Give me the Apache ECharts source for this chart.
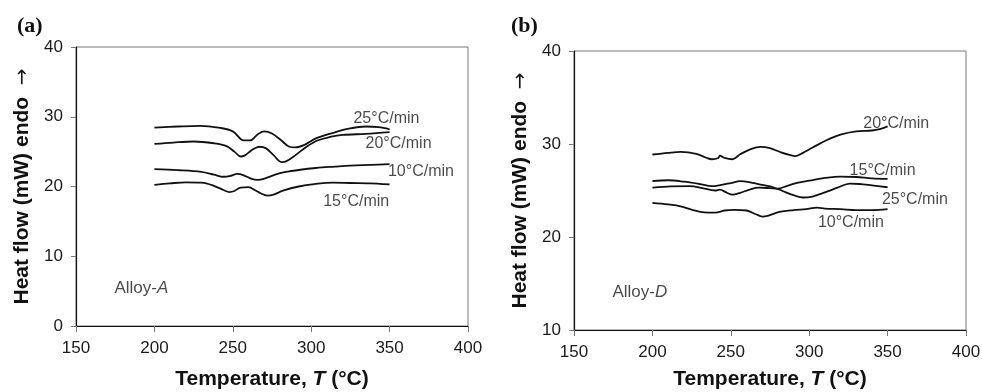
<!DOCTYPE html>
<html><head><meta charset="utf-8">
<script src="https://cdn.jsdelivr.net/npm/echarts@6/dist/echarts.min.js"></script>
<style>html,body{margin:0;padding:0;background:#fff}#c{width:982px;height:392px}</style>
</head><body><div id="c"></div>
<script>
// ---------- Panel (a) Alloy-A ----------
const A25_T = [200,215,229,242,250,257,261,266,270,275,281,286,290,296,303,314,324,335,343,350];
const A25_V = [28.43,28.6,28.7,28.4,27.9,26.6,26.6,27.5,27.9,27.6,26.6,25.7,25.6,26.0,26.9,27.7,28.3,28.6,28.5,28.2];
const A20_T = [200,212,225,238,246,251,255,258,262,267,271,276,281,284,290,297,304,312,320,335,350];
const A20_V = [26.1,26.3,26.45,26.2,25.8,25.0,24.3,24.5,25.2,25.7,25.5,24.5,23.5,23.6,24.5,25.7,26.6,27.1,27.4,27.55,27.8];
const A10_T = [200,215,230,238,244,248,253,257,262,266,271,277,283,293,303,315,325,338,350];
const A10_V = [22.5,22.35,22.1,21.7,21.4,21.5,21.8,21.6,21.1,20.95,21.2,21.7,22.05,22.4,22.65,22.85,23.0,23.1,23.2];
const A15_T = [200,210,220,230,238,244,248,251,255,260,264,268,272,276,282,292,302,314,325,338,350];
const A15_V = [20.24,20.45,20.6,20.55,20.1,19.5,19.2,19.35,19.85,19.9,19.5,19.0,18.7,18.85,19.4,20.0,20.35,20.55,20.5,20.45,20.3];
const A_LABELS = ['25°C/min','20°C/min','10°C/min','15°C/min'];
const A_LABEL_T = [348,355.7,370,328.7];
const A_LABEL_V = [29.76,26.2,22.1,17.8];

// ---------- Panel (b) Alloy-D ----------
const B20_T = [200,210,218,228,234,238,242,243,246,251,256,262,269,275,282,288,291,296,302,311,320,330,340,345,350];
const B20_V = [28.87,29.05,29.15,28.95,28.55,28.36,28.5,28.75,28.5,28.36,28.9,29.4,29.7,29.55,29.1,28.8,28.7,29.05,29.6,30.4,31.0,31.35,31.45,31.6,31.9];
const B15_T = [200,212,224,232,240,243,247,251,256,262,268,275,280,286,293,300,310,320,330,340,350];
const B15_V = [25.3,25.45,25.46,25.25,25.0,25.1,24.8,24.55,24.75,25.1,25.3,25.25,25.2,25.5,25.85,26.05,26.35,26.5,26.45,26.3,26.25];
const B25_T = [200,210,220,230,238,244,250,256,263,270,277,283,290,296,302,310,318,326,332,340,350];
const B25_V = [26.0,26.1,25.95,25.7,25.46,25.6,25.8,26.0,25.85,25.6,25.35,24.95,24.5,24.25,24.35,24.8,25.3,25.75,25.7,25.55,25.35];
const B10_T = [200,210,218,226,233,240,246,252,260,266,270,274,281,290,298,305,310,320,330,340,350];
const B10_V = [23.67,23.5,23.3,22.9,22.65,22.62,22.85,22.92,22.85,22.45,22.2,22.3,22.7,22.9,23.0,23.15,23.05,23.0,22.9,22.9,23.0];
const B_LABELS = ['20°C/min','15°C/min','25°C/min','10°C/min'];
const B_LABEL_T = [355.5,346.8,367.4,326.6];
const B_LABEL_V = [32.2,27.18,24.07,21.56];

const X_TICKS = [150,200,250,300,350,400];
const YA_RANGE = [0,40];
const YB_RANGE = [10,40];
const ALLOY_T = 174.5;
const ALLOY_A_V = 5.4;
const ALLOY_D_V = 14.1;

const FONT = '"Liberation Sans", Arial, sans-serif';
const pair = (T, V) => T.map((t, i) => [t, V[i]]);

function curve(T, V, idx) {
  return { type: 'line', xAxisIndex: idx, yAxisIndex: idx, data: pair(T, V),
    smooth: 0.35, showSymbol: false, symbol: 'none', silent: true,
    lineStyle: { color: '#111', width: 1.8 } };
}
function labels(names, T, V, idx) {
  return { type: 'scatter', xAxisIndex: idx, yAxisIndex: idx, symbolSize: 0, silent: true,
    data: names.map((n, i) => ({ name: n, value: [T[i], V[i]] })),
    label: { show: true, position: 'inside', formatter: p => p.name,
      fontFamily: FONT, fontSize: 16, color: '#1a1a1a' } };
}
function alloy(letter, v, idx) {
  return { type: 'scatter', xAxisIndex: idx, yAxisIndex: idx, symbolSize: 0, silent: true,
    data: [{ name: letter, value: [ALLOY_T, v] }],
    label: { show: true, position: 'right', distance: 0, formatter: '{n|Alloy-}{i|' + letter + '}',
      rich: { n: { fontFamily: FONT, fontSize: 17, color: '#1a1a1a' },
              i: { fontFamily: FONT, fontSize: 17, color: '#1a1a1a', fontStyle: 'italic' } } } };
}
function xAxis(idx, gap) {
  return { type: 'value', gridIndex: idx, min: X_TICKS[0], max: X_TICKS[X_TICKS.length-1], interval: 50,
    splitLine: { show: false },
    axisLine: { show: true, lineStyle: { color: '#111', width: 1.2 } },
    axisTick: { show: true, inside: false, length: 6, lineStyle: { color: '#777' } },
    axisLabel: { fontFamily: FONT, fontSize: 17, color: '#1a1a1a', margin: 14 },
    name: '{b|Temperature, }{i|T}{b| (°C)}', nameLocation: 'middle', nameGap: gap,
    nameTextStyle: { rich: {
      b: { fontFamily: FONT, fontSize: 21, fontWeight: 'bold', color: '#111' },
      i: { fontFamily: FONT, fontSize: 21, fontWeight: 'bold', fontStyle: 'italic', color: '#111' } } } };
}
function yAxis(idx, range) {
  return { type: 'value', gridIndex: idx, min: range[0], max: range[1], interval: 10,
    splitLine: { show: false },
    axisLine: { show: true, lineStyle: { color: '#111', width: 1.2 } },
    axisTick: { show: true, inside: false, length: 5, lineStyle: { color: '#777' } },
    axisLabel: { fontFamily: FONT, fontSize: 17, color: '#1a1a1a', margin: 13 },
    name: '{b|Heat flow (mW) endo  }{a|→}', nameLocation: 'middle', nameRotate: 90, nameGap: 43,
    nameTextStyle: { rich: {
      b: { fontFamily: FONT, fontSize: 21, fontWeight: 'bold', color: '#111' },
      a: { fontFamily: '"DejaVu Sans", sans-serif', fontSize: 20, color: '#111' } } } };
}

const chart = echarts.init(document.getElementById('c'), null, { renderer: 'canvas' });
chart.setOption({
  animation: false,
  backgroundColor: '#fff',
  title: [
    { text: '(a)', left: 12, top: 10, textStyle: { fontFamily: '"Liberation Serif", "Times New Roman", serif', fontSize: 22, fontWeight: 'bold', color: '#111' } },
    { text: '(b)', left: 506, top: 10, textStyle: { fontFamily: '"Liberation Serif", "Times New Roman", serif', fontSize: 22, fontWeight: 'bold', color: '#111' } }
  ],
  grid: [
    { left: 76, top: 47, width: 392, height: 279, show: true, borderColor: '#777', borderWidth: 1, backgroundColor: 'transparent', containLabel: false, outerBoundsMode: 'none' },
    { left: 574, top: 51, width: 392, height: 279, show: true, borderColor: '#777', borderWidth: 1, backgroundColor: 'transparent', containLabel: false, outerBoundsMode: 'none' }
  ],
  xAxis: [xAxis(0, 43), xAxis(1, 39)],
  yAxis: [yAxis(0, YA_RANGE), yAxis(1, YB_RANGE)],
  series: [
    curve(A25_T, A25_V, 0), curve(A20_T, A20_V, 0), curve(A10_T, A10_V, 0), curve(A15_T, A15_V, 0),
    labels(A_LABELS, A_LABEL_T, A_LABEL_V, 0), alloy('A', ALLOY_A_V, 0),
    curve(B20_T, B20_V, 1), curve(B15_T, B15_V, 1), curve(B25_T, B25_V, 1), curve(B10_T, B10_V, 1),
    labels(B_LABELS, B_LABEL_T, B_LABEL_V, 1), alloy('D', ALLOY_D_V, 1)
  ]
});
</script></body></html>
